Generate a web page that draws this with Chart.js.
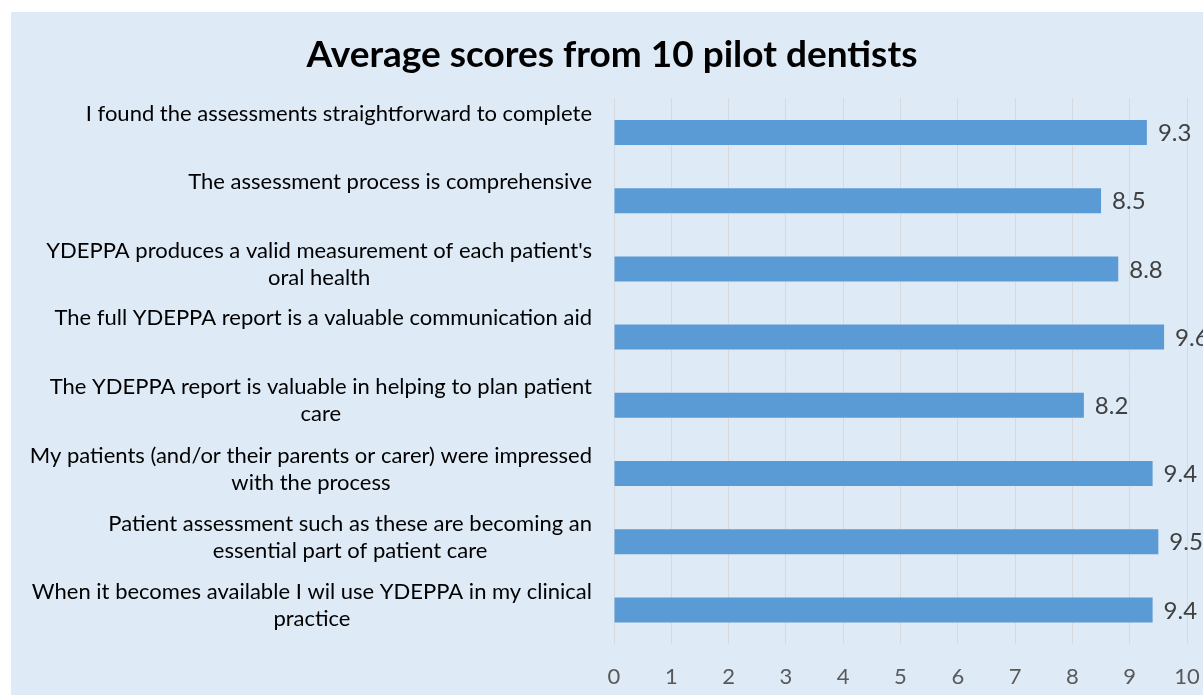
<!DOCTYPE html>
<html><head><meta charset="utf-8">
<script src="https://cdn.jsdelivr.net/npm/chart.js@4/dist/chart.umd.min.js"></script>
<style>
html,body{margin:0;padding:0;background:#fff;width:1203px;height:695px;overflow:hidden}
#wrap{position:absolute;left:11px;top:12px;width:1192px;height:683px;background:#DEEAF6}
canvas{display:block}
</style></head><body>
<div id="wrap"><canvas id="c" width="1192" height="683"></canvas></div>
<script>
const titleText = "Average scores from 10 pilot dentists";
const categories = [
  ["I found the assessments straightforward to complete"],
  ["The assessment process is comprehensive"],
  ["YDEPPA produces a valid measurement of each patient's", "oral health"],
  ["The full YDEPPA report is a valuable communication aid"],
  ["The YDEPPA report is valuable in helping to plan patient", "care"],
  ["My patients (and/or their parents or carer) were impressed", "with the process"],
  ["Patient assessment such as these are becoming an", "essential part of patient care"],
  ["When it becomes available I wil use YDEPPA in my clinical", "practice"]
];
const scores = [9.3, 8.5, 8.8, 9.6, 8.2, 9.4, 9.5, 9.4];
const xTicks = [0,1,2,3,4,5,6,7,8,9,10];

const FONT = 'Lato, "Open Sans", sans-serif';

const valueLabels = {
  id: 'valueLabels',
  afterDatasetsDraw(chart) {
    const ctx = chart.ctx;
    const meta = chart.getDatasetMeta(0);
    ctx.save();
    ctx.font = '24px ' + FONT;
    ctx.fillStyle = '#404040';
    ctx.textAlign = 'left';
    ctx.textBaseline = 'middle';
    meta.data.forEach((bar, i) => {
      ctx.fillText(String(scores[i]), bar.x + 11, bar.y + 1);
    });
    ctx.restore();
  }
};

const categoryLabels = {
  id: 'categoryLabels',
  afterDraw(chart) {
    const ctx = chart.ctx;
    const ys = chart.scales.y;
    const rightEdge = chart.chartArea.left - 22;
    ctx.save();
    ctx.font = '22px ' + FONT;
    ctx.fillStyle = '#000';
    ctx.textAlign = 'center';
    ctx.textBaseline = 'middle';
    categories.forEach((lines, i) => {
      const yc = ys.getPixelForValue(i);
      const w = Math.max(...lines.map(l => ctx.measureText(l).width));
      const cx = rightEdge - w / 2;
      lines.forEach((l, k) => {
        ctx.fillText(l, cx, yc - (lines.length === 1 ? 19 : 18) + k * 27);
      });
    });
    ctx.restore();
  }
};

new Chart(document.getElementById('c'), {
  type: 'bar',
  data: {
    labels: categories.map(l => l.join(' ')),
    datasets: [{
      data: scores,
      backgroundColor: '#5B9BD5',
      borderWidth: 0,
      categoryPercentage: 1,
      barPercentage: 0.367
    }]
  },
  options: {
    indexAxis: 'y',
    responsive: false,
    animation: false,
    layout: { padding: { left: 26, right: 16, top: 0, bottom: 0 } },
    plugins: {
      legend: { display: false },
      tooltip: { enabled: false },
      title: {
        display: true,
        text: titleText,
        color: '#000',
        font: { family: FONT, size: 37, weight: 'bold', lineHeight: 1.2 },
        padding: { top: 21, bottom: 21 }
      }
    },
    scales: {
      x: {
        min: 0, max: 10,
        afterBuildTicks(s) { s.ticks = xTicks.map(v => ({ value: v })); },
        afterFit(s) { s.height = 51; s.paddingLeft = 0; s.paddingRight = 0; },
        ticks: { color: '#595959', font: { family: FONT, size: 22 }, padding: 20 },
        grid: { color: '#D6DADF', drawTicks: false, lineWidth: 1 },
        border: { display: false }
      },
      y: {
        afterFit(s) { s.width = 577; },
        ticks: { display: false },
        grid: { display: false, drawTicks: false },
        border: { display: false }
      }
    }
  },
  plugins: [valueLabels, categoryLabels]
});
</script>
</body></html>
